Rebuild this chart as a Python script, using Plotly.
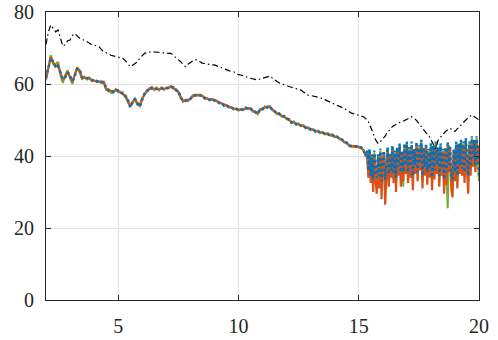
import numpy as np
import plotly.graph_objects as go

# ---- data ----
black_y = [
    71.0, 74.5, 76.4, 75.5, 74.5, 75.0, 72.5, 70.5, 71.0, 72.0,
    72.2, 73.5, 74.0, 73.3, 72.7, 72.5, 72.0, 71.8, 71.3, 70.9,
    70.8, 70.6, 70.4, 69.6, 69.0, 68.7, 68.3, 68.0, 67.8, 67.6,
    67.5, 67.3, 67.1, 66.5, 65.7, 64.8, 65.2, 65.8, 66.2, 67.2,
    68.0, 68.5, 68.7, 68.9, 69.0, 68.9, 68.8, 68.7, 68.6, 68.5,
    68.6, 68.5, 68.5, 68.0, 67.3, 66.7, 66.2, 65.4, 64.8, 65.5,
    66.0, 66.4, 66.7, 66.7, 66.2, 65.8, 65.7, 65.5, 65.4, 65.3,
    65.3, 65.0, 64.8, 64.5, 64.2, 63.9, 63.7, 63.5, 63.4, 63.0,
    62.6, 62.5, 62.2, 62.0, 61.8, 61.6, 61.4, 61.2, 61.1, 61.4,
    61.6, 61.9, 62.1, 62.2, 61.7, 61.1, 60.7, 60.3, 60.0, 59.7,
    59.5, 59.3, 59.1, 58.9, 58.7, 58.5, 58.3, 57.8, 57.3, 56.9,
    56.8, 56.7, 56.6, 56.5, 56.2, 55.9, 55.6, 55.3, 55.1, 54.8,
    54.6, 54.2, 53.9, 53.5, 53.2, 52.8, 52.3, 51.9, 51.7, 51.5,
    51.4, 51.2, 50.9, 50.3, 49.5, 48.0, 46.0, 44.5, 43.5, 44.0,
    44.8, 45.5, 46.8, 47.2, 48.2, 48.6, 48.9, 49.3, 49.5, 49.8,
    50.2, 50.5, 50.9, 50.5, 49.9, 49.0, 48.1, 47.2, 46.4, 45.8,
    44.5, 43.5, 42.0, 44.4, 45.2, 46.3, 46.8, 47.3, 47.7, 47.2,
    46.8, 47.6, 48.1, 49.0, 49.8, 50.3, 50.9, 51.4, 51.0, 50.5,
    50.0,
]

green_smooth = [
    61.0, 65.0, 68.0, 65.5, 65.5, 66.2, 62.5, 60.3, 62.5, 63.8,
    61.5, 60.0, 63.0, 64.6, 63.2, 61.2, 62.0, 61.2, 61.8, 60.8,
    61.0, 60.5, 60.8, 60.2, 60.3, 58.3, 58.6, 57.5, 57.6, 58.6,
    57.7, 57.9, 57.0, 56.4, 55.0, 54.0, 55.2, 55.6, 54.2, 54.3,
    56.2, 57.0, 58.3, 58.5, 59.2, 58.3, 59.0, 58.2, 59.1, 58.4,
    59.0, 58.8, 59.5, 58.6, 58.6, 57.5, 56.0, 55.4, 55.2, 55.7,
    55.8, 56.9, 56.7, 57.1, 56.7, 56.8, 56.0, 56.1, 55.5, 55.9,
    55.3, 55.4, 54.6, 54.7, 53.9, 54.2, 53.4, 53.6, 52.9, 53.2,
    52.6, 53.0, 52.7, 53.4, 53.0, 53.3, 52.3, 52.3, 51.6, 53.0,
    52.9, 53.8, 53.4, 53.9, 52.7, 52.5, 51.6, 51.8, 50.9, 51.1,
    50.2, 50.3, 49.2, 49.6, 48.7, 49.1, 48.3, 48.6, 47.7, 48.0,
    47.2, 47.5, 46.7, 47.1, 46.3, 46.7, 46.0, 46.4, 45.7, 46.1,
    45.2, 45.5, 44.6, 44.7, 43.7, 43.8, 42.7, 42.9, 42.5, 42.8,
    42.3, 42.5, 41.4, 40.2,
]
orange_smooth = [
    61.6, 64.5, 67.5, 66.0, 64.8, 65.3, 63.0, 61.1, 62.0, 63.4,
    62.0, 60.6, 62.5, 64.4, 63.8, 61.7, 61.8, 61.5, 61.6, 61.0,
    60.9, 60.7, 60.6, 60.5, 60.6, 58.8, 58.3, 58.0, 57.9, 58.4,
    58.0, 57.6, 57.4, 56.8, 55.5, 53.7, 54.8, 56.0, 54.5, 53.9,
    55.8, 57.2, 58.0, 58.8, 58.9, 58.6, 58.8, 58.5, 58.9, 58.6,
    58.8, 59.0, 59.3, 58.9, 58.4, 57.9, 56.5, 55.1, 55.6, 55.3,
    56.0, 56.6, 57.0, 56.8, 57.0, 56.6, 56.2, 55.9, 55.8, 55.7,
    55.6, 55.2, 54.9, 54.5, 54.2, 54.0, 53.7, 53.4, 53.2, 53.0,
    52.9, 52.8, 53.0, 53.2, 53.3, 53.1, 52.6, 52.1, 51.9, 52.8,
    53.2, 53.5, 53.7, 53.7, 53.0, 52.3, 51.9, 51.6, 51.2, 50.9,
    50.5, 50.0, 49.5, 49.3, 49.0, 48.8, 48.6, 48.3, 48.0, 47.7,
    47.5, 47.2, 47.0, 46.8, 46.6, 46.4, 46.3, 46.1, 46.0, 45.8,
    45.5, 45.2, 44.9, 44.4, 44.0, 43.5, 43.0, 42.6, 42.8, 42.5,
    42.6, 42.2, 41.7, 39.8,
]
blue_smooth = [
    61.8, 64.2, 67.2, 66.2, 64.6, 65.0, 63.2, 61.4, 61.8, 63.2,
    62.2, 60.8, 62.3, 64.2, 64.0, 61.9, 61.6, 61.7, 61.4, 61.2,
    60.7, 60.9, 60.4, 60.7, 60.4, 59.0, 58.1, 58.2, 57.7, 58.2,
    58.2, 57.4, 57.6, 56.6, 55.7, 53.5, 55.0, 55.8, 54.7, 53.7,
    55.6, 57.4, 57.8, 59.0, 58.7, 58.8, 58.6, 58.7, 58.7, 58.8,
    58.6, 59.2, 59.1, 59.1, 58.2, 58.1, 56.3, 55.3, 55.4, 55.5,
    55.8, 56.8, 56.8, 57.0, 56.8, 56.8, 56.0, 56.1, 55.6, 55.9,
    55.4, 55.4, 54.7, 54.7, 54.0, 54.2, 53.5, 53.6, 53.0, 53.2,
    52.7, 53.0, 52.8, 53.4, 53.1, 53.3, 52.4, 52.3, 51.7, 53.0,
    53.0, 53.7, 53.5, 53.9, 52.8, 52.5, 51.7, 51.8, 51.0, 51.1,
    50.3, 50.2, 49.3, 49.5, 48.8, 49.0, 48.4, 48.5, 47.8, 47.9,
    47.3, 47.4, 46.8, 47.0, 46.4, 46.6, 46.1, 46.3, 45.8, 46.0,
    45.3, 45.4, 44.7, 44.6, 43.8, 43.7, 42.8, 42.8, 42.6, 42.7,
    42.4, 42.4, 41.5, 40.0,
]

green_noisy = [
    41.0, 35.0, 41.5, 33.5, 40.0, 32.0, 41.0, 34.5, 31.5, 40.0,
    33.0, 41.5, 31.5, 39.5, 41.0, 30.5, 37.5, 42.0, 33.5, 40.5,
    35.5, 42.5, 33.5, 41.0, 32.0, 42.0, 36.0, 43.0, 34.0, 41.0,
    31.5, 42.5, 36.5, 43.5, 34.5, 42.0, 35.5, 43.0, 33.5, 41.5,
    36.5, 43.5, 34.5, 42.5, 37.5, 44.0, 33.0, 42.0, 36.0, 43.0,
    34.0, 41.5, 35.5, 43.0, 32.5, 42.5, 35.0, 43.5, 36.5, 42.0,
    33.5, 43.0, 35.5, 41.5, 32.0, 42.0, 34.5, 25.5, 43.0, 37.0,
    32.5, 35.0, 41.5, 34.5, 43.5, 33.0, 43.0, 36.5, 44.0, 35.5,
    43.5, 34.0, 44.5, 37.5, 32.5, 43.5, 36.0, 45.0, 38.5, 44.0,
    36.5, 45.0, 39.5, 33.0,
]
orange_noisy = [
    40.5, 34.0, 41.0, 32.5, 39.0, 30.0, 40.5, 33.0, 29.5, 39.5,
    31.0, 41.0, 28.0, 38.5, 40.5, 26.5, 36.0, 41.5, 31.5, 40.0,
    34.0, 42.0, 32.5, 40.5, 30.0, 41.5, 34.5, 42.5, 31.5, 40.5,
    33.0, 42.0, 35.0, 43.0, 32.5, 41.5, 34.0, 42.5, 30.5, 41.0,
    35.0, 43.0, 33.0, 42.0, 36.0, 43.5, 31.0, 41.5, 34.5, 42.5,
    32.0, 41.0, 34.0, 42.5, 30.5, 42.0, 33.5, 43.0, 35.0, 41.5,
    31.5, 42.5, 34.5, 41.0, 29.5, 41.5, 32.0, 43.0, 35.5, 42.0,
    30.5, 28.5, 41.0, 33.0, 43.0, 31.0, 42.5, 35.0, 43.5, 34.5,
    43.0, 32.5, 44.0, 36.0, 29.5, 43.0, 34.5, 44.5, 37.0, 43.5,
    35.5, 44.5, 38.0, 43.0,
]
blue_noisy = [
    41.5, 36.0, 42.0, 34.5, 40.5, 33.5, 41.5, 35.5, 34.0, 40.5,
    34.5, 42.0, 33.0, 40.0, 41.5, 33.5, 38.0, 42.5, 35.0, 41.0,
    36.0, 43.0, 35.0, 41.5, 34.0, 42.5, 37.0, 43.5, 35.5, 41.5,
    35.5, 43.5, 37.5, 44.0, 35.5, 42.5, 37.0, 44.0, 34.5, 42.0,
    37.5, 44.0, 35.5, 43.0, 38.5, 44.5, 34.5, 42.5, 37.0, 43.5,
    35.5, 42.0, 36.5, 43.5, 34.0, 43.0, 36.0, 44.0, 37.5, 42.5,
    34.5, 43.5, 36.5, 42.0, 33.5, 42.5, 35.5, 44.0, 37.5, 43.0,
    34.0, 33.5, 42.0, 35.5, 44.0, 34.5, 43.5, 37.5, 44.5, 36.5,
    44.0, 35.5, 45.0, 38.5, 34.5, 44.0, 37.0, 45.5, 39.5, 44.5,
    37.5, 45.5, 40.5, 34.5,
]

# sample positions
x_black = np.round(2.0 + 0.1 * np.arange(len(black_y)), 2)
x_smooth = np.round(2.0 + 0.1 * np.arange(len(orange_smooth)), 2)
x_noisy = np.round(15.3 + 0.05 * np.arange(1, len(orange_noisy) + 1), 2)
x_col = np.concatenate([x_smooth, x_noisy])

green_y = green_smooth + green_noisy
orange_y = orange_smooth + orange_noisy
blue_y = blue_smooth + blue_noisy

fig = go.Figure()
fig.add_trace(go.Scatter(x=x_col, y=green_y, mode="lines",
                         line=dict(color="#77AC30", width=2)))
fig.add_trace(go.Scatter(x=x_col, y=orange_y, mode="lines",
                         line=dict(color="#D95319", width=2.2)))
fig.add_trace(go.Scatter(x=x_col, y=blue_y, mode="lines",
                         line=dict(color="#0072BD", width=2.4, dash="2.5px,3px")))
fig.add_trace(go.Scatter(x=x_black, y=black_y, mode="lines",
                         line=dict(color="#000000", width=1.2, dash="6px,3px,1.5px,3px")))

axis_common = dict(
    showline=True, linecolor="#262626", linewidth=1, mirror="ticks",
    ticks="inside", ticklen=5, tickcolor="#262626",
    showgrid=True, gridcolor="#e3e3e3", gridwidth=1, zeroline=False,
    automargin=False,
)
fig.update_xaxes(range=[2, 20], tickvals=[5, 10, 15, 20],
                 ticklabelstandoff=8, **axis_common)
fig.update_yaxes(range=[0, 80], tickvals=[0, 20, 40, 60, 80],
                 ticklabelstandoff=7, **axis_common)

fig.update_layout(
    width=498, height=340,
    margin=dict(l=46, r=19, t=12, b=40),
    paper_bgcolor="white", plot_bgcolor="white",
    showlegend=False,
    font=dict(family="Liberation Serif, Times New Roman, serif", size=20, color="#262626"),
)
fig.write_html("out.html")
